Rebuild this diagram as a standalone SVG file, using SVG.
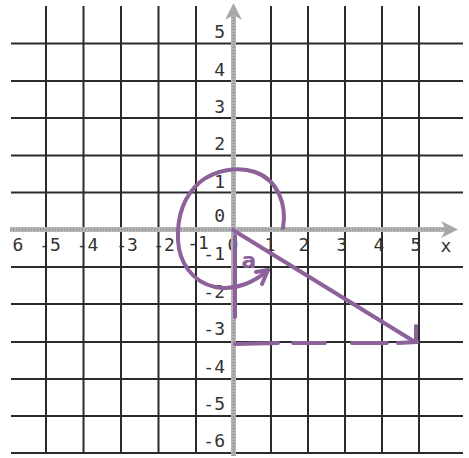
<svg xmlns="http://www.w3.org/2000/svg" width="469" height="458" viewBox="0 0 469 458">
<style>
.grid line{stroke:#2b2b2b;stroke-width:2}
.lbl{font-family:"DejaVu Sans Mono",monospace;font-size:18px;fill:#333}
.ax{stroke:#b4b4b4;stroke-width:5}
.axd{stroke:#8a8a8a;stroke-width:2;stroke-dasharray:1 2}
.pen{fill:none;stroke:#8d6199;stroke-width:4;stroke-linecap:round;stroke-linejoin:round}
</style>
<rect width="469" height="458" fill="#fff"/>
<g id="grid" class="grid">
<line x1="46" y1="6" x2="46" y2="453"/>
<line x1="83.5" y1="6" x2="83.5" y2="453"/>
<line x1="121" y1="6" x2="121" y2="453"/>
<line x1="158.5" y1="6" x2="158.5" y2="453"/>
<line x1="196" y1="6" x2="196" y2="453"/>
<line x1="271" y1="6" x2="271" y2="453"/>
<line x1="308" y1="6" x2="308" y2="453"/>
<line x1="345" y1="6" x2="345" y2="453"/>
<line x1="382" y1="6" x2="382" y2="453"/>
<line x1="419" y1="6" x2="419" y2="453"/>
<line x1="11" y1="43.5" x2="463" y2="43.5"/>
<line x1="11" y1="81" x2="463" y2="81"/>
<line x1="11" y1="118" x2="463" y2="118"/>
<line x1="11" y1="155.5" x2="463" y2="155.5"/>
<line x1="11" y1="192.5" x2="463" y2="192.5"/>
<line x1="11" y1="267" x2="463" y2="267"/>
<line x1="11" y1="304" x2="463" y2="304"/>
<line x1="11" y1="342" x2="463" y2="342"/>
<line x1="11" y1="379" x2="463" y2="379"/>
<line x1="11" y1="416" x2="463" y2="416"/>
<line x1="11" y1="453" x2="463" y2="453"/>
</g>
<g id="labels" class="lbl">
<text x="18" y="251" text-anchor="middle">6</text>
<text x="50" y="251" text-anchor="middle">-5</text>
<text x="87.5" y="251" text-anchor="middle">-4</text>
<text x="127" y="251" text-anchor="middle">-3</text>
<text x="164" y="251" text-anchor="middle">-2</text>
<text x="198" y="249" text-anchor="middle">-1</text>
<text x="233" y="251" text-anchor="middle">0</text>
<text x="270" y="251" text-anchor="middle">1</text>
<text x="304" y="251" text-anchor="middle">2</text>
<text x="342" y="251" text-anchor="middle">3</text>
<text x="379" y="251" text-anchor="middle">4</text>
<text x="416" y="251" text-anchor="middle">5</text>
<text x="446" y="252" text-anchor="middle">x</text>
<text x="225" y="38" text-anchor="end">5</text>
<text x="225" y="76" text-anchor="end">4</text>
<text x="225" y="113" text-anchor="end">3</text>
<text x="225" y="150" text-anchor="end">2</text>
<text x="225" y="188" text-anchor="end">1</text>
<text x="225" y="222" text-anchor="end">0</text>
<text x="225" y="260" text-anchor="end">-1</text>
<text x="225" y="298" text-anchor="end">-2</text>
<text x="225" y="335" text-anchor="end">-3</text>
<text x="225" y="373" text-anchor="end">-4</text>
<text x="225" y="410" text-anchor="end">-5</text>
<text x="225" y="447" text-anchor="end">-6</text>
</g>
<g id="axes">
<line class="ax" x1="10" y1="229.5" x2="448" y2="229.5"/>
<line class="axd" x1="10" y1="229.5" x2="448" y2="229.5"/>
<line class="ax" x1="233.5" y1="456" x2="233.5" y2="14"/>
<line class="axd" x1="233.5" y1="456" x2="233.5" y2="14"/>
<polygon points="233.5,3 242,20 233.5,15 225,20" fill="#a8a8a8"/>
<polygon points="458,229.5 441,221 446,229.5 441,238" fill="#a8a8a8"/>
</g>
<g id="drawing" class="pen">
<path d="M283,228 C287,205 278,180 255,172 C238,166 215,170 200,182 C185,195 177,215 178,240 C179,262 192,282 215,287 C235,291 255,282 268,270"/>
<path d="M256,272 L268,270 L262,284"/>
<path d="M235,236 L235,317"/>
<path d="M233,230 L415,342"/>
<path d="M416,326 L416,340"/>
<path d="M235,344 L278,343 M293,343 L325,343 M352,343 L387,343 M398,343 L417,342"/>
<text x="249" y="268" text-anchor="middle" font-family="DejaVu Sans,sans-serif" font-size="22" font-weight="bold" fill="#8d6199" stroke="none">a</text>
</g>
</svg>
